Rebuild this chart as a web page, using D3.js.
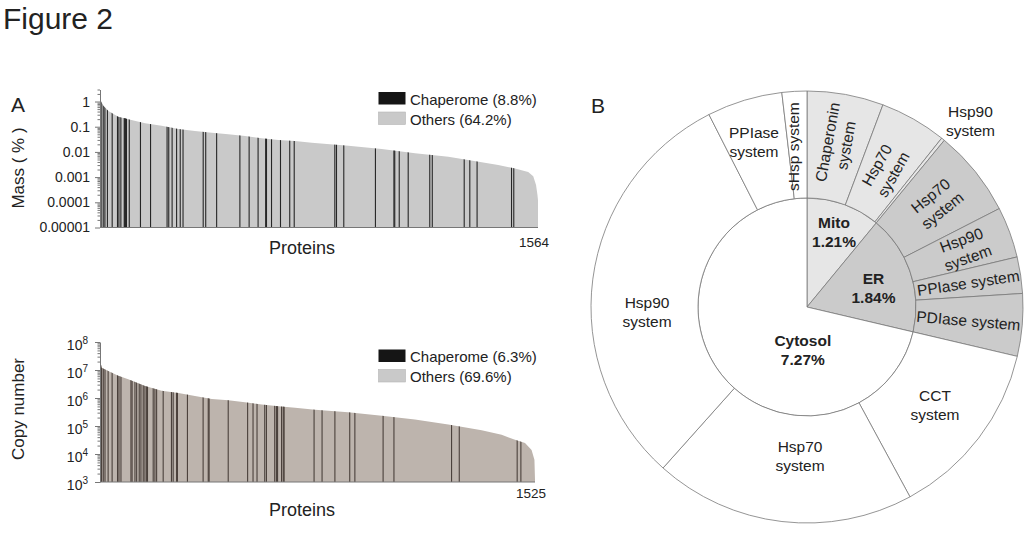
<!DOCTYPE html>
<html>
<head>
<meta charset="utf-8">
<script src="https://cdn.jsdelivr.net/npm/d3@7"></script>
<style>
  body { margin: 0; background: #fff; }
  svg { display: block; font-family: "Liberation Sans", Arial, sans-serif; }
</style>
</head>
<body>
<svg id="fig" width="1024" height="545"></svg>
<script>
// ---- dati ----

// pannello A, massa: inviluppo delle barre [rango, massa %]
var massEnvelope = [[0, 1.08], [4, 1.0], [12, 0.68], [30, 0.42], [65, 0.25], [101, 0.196], [161, 0.137],
  [220, 0.11], [280, 0.081], [339, 0.067], [399, 0.058], [458, 0.05], [518, 0.043], [577, 0.035],
  [637, 0.030], [696, 0.027], [756, 0.023], [887, 0.0177], [1006, 0.0131], [1125, 0.0088],
  [1244, 0.0065], [1363, 0.0039], [1422, 0.003], [1482, 0.0022], [1529, 0.0016], [1547, 0.00107],
  [1557, 0.00049], [1562, 0.0002], [1564, 0.00012]];
// ranghi delle proteine chaperone (linee nere)
var massChaperones = [1, 2, 3, 4, 12, 18, 27, 44, 63, 68, 75, 87, 89, 91, 93, 95, 105, 145, 181, 240, 246,
  258, 274, 287, 297, 369, 378, 417, 500, 533, 565, 592, 595, 613, 645, 678, 694, 839, 845, 871, 984,
  1050, 1053, 1069, 1101, 1178, 1187, 1301, 1321, 1347, 1470, 1478];
var massTicks = [0.00001, 0.0001, 0.001, 0.01, 0.1, 1];
var massTickLabels = ["0.00001", "0.0001", "0.001", "0.01", "0.1", "1"];
var massTotal = 1564;
var massLegend = ["Chaperome (8.8%)", "Others (64.2%)"];

// pannello A, numero di copie
var copyEnvelope = [[0, 2.1e7], [1, 2.1e7], [6, 1.2e7], [29, 9.3e6], [64, 6.2e6], [99, 4.7e6], [158, 2.7e6],
  [216, 1.8e6], [275, 1.5e6], [333, 1.17e6], [392, 9.3e5], [450, 8.3e5], [508, 7.1e5], [567, 5.9e5],
  [625, 5.1e5], [684, 4.5e5], [754, 3.8e5], [870, 3.1e5], [988, 2.3e5], [1104, 1.7e5], [1221, 1.12e5],
  [1338, 7.1e4], [1408, 4.9e4], [1455, 3.2e4], [1490, 2.45e4], [1513, 1.4e4], [1523, 6.2e3], [1525, 1.2e3]];
var copyChaperones = [1, 6, 12, 18, 29, 43, 62, 67, 74, 109, 113, 123, 129, 138, 144, 152, 158, 164, 167,
  187, 193, 199, 222, 251, 257, 269, 272, 307, 362, 380, 383, 450, 518, 537, 551, 578, 584, 613, 619,
  623, 637, 643, 646, 751, 779, 824, 876, 894, 993, 1031, 1233, 1260, 1463, 1476];
var copyTicks = [1e3, 1e4, 1e5, 1e6, 1e7, 1e8];
var copyTickExp = ["3", "4", "5", "6", "7", "8"];
var copyTotal = 1525;
var copyLegend = ["Chaperome (6.3%)", "Others (69.6%)"];

// pannello B: compartimenti e sistemi (% della massa del proteoma)
var compartments = ["Mito", "ER", "Cytosol"];
var compartmentPct = ["1.21%", "1.84%", "7.27%"];
var mitoSystems = ["Chaperonin system", "Hsp70 system", "Hsp90 system"];
var mitoValues = [0.59, 0.516, 0.026];
var erSystems = ["Hsp70 system", "Hsp90 system", "PPIase system", "PDIase system"];
var erValues = [0.671, 0.393, 0.281, 0.482];
var cytoSystems = ["CCT system", "Hsp70 system", "Hsp90 system", "PPIase system", "sHsp system"];
var cytoValues = [1.385, 2.015, 3.188, 0.582, 0.192];

// ---- disegno ----
var svg = d3.select("#fig");
var FONT_INK = "#222";

svg.append("text").attr("x", 3).attr("y", 29).style("font-size", "30px").attr("fill", FONT_INK).text("Figure 2");
svg.append("text").attr("x", 11).attr("y", 112).style("font-size", "21px").attr("fill", FONT_INK).text("A");
svg.append("text").attr("x", 591).attr("y", 113).style("font-size", "21px").attr("fill", FONT_INK).text("B");

function isPow10(v){ var l = Math.log10(v); return Math.abs(l - Math.round(l)) < 1e-9; }

//funzione che disegna un grafico a barre ordinato con le chaperone sopra
function rankPlot(cfg){
  var x = d3.scaleLinear().domain([0, cfg.total]).range([cfg.x0, cfg.x1]);
  var y = d3.scaleLog().domain(cfg.domain).range([cfg.yBottom, cfg.yTop]);
  var g = svg.append("g");

  var area = d3.area()
    .x(function(d){ return x(d[0]); })
    .y0(cfg.yBottom)
    .y1(function(d){ return y(d[1]); });

  g.append("clipPath").attr("id", cfg.id + "-clip")
    .append("path").attr("d", area(cfg.envelope));

  g.append("path").attr("d", area(cfg.envelope)).attr("fill", cfg.fill);

  g.append("g").attr("clip-path", "url(#" + cfg.id + "-clip)")
    .selectAll("line").data(cfg.chaperones).enter().append("line")
    .attr("x1", function(d){ return x(d - 0.5); })
    .attr("x2", function(d){ return x(d - 0.5); })
    .attr("y1", cfg.yBottom).attr("y2", cfg.yTop)
    .style("stroke", cfg.lineColor).style("stroke-width", "1.1px");

  // tacche minori
  var minor = y.ticks().filter(function(v){ return !isPow10(v); });
  var minorAx = g.append("g").attr("transform", "translate(" + cfg.x0 + ",0)")
    .call(d3.axisLeft(y).tickValues(minor).tickSize(2.5).tickSizeOuter(0).tickFormat(""));
  minorAx.select(".domain").remove();
  minorAx.selectAll("line").attr("stroke", "#777");

  // tacche maggiori
  var majorAx = g.append("g").attr("transform", "translate(" + cfg.x0 + ",0)")
    .call(d3.axisLeft(y).tickValues(cfg.ticks).tickSize(5).tickSizeOuter(0).tickPadding(cfg.pad).tickFormat(""));
  majorAx.select(".domain").attr("stroke", "#777");
  majorAx.selectAll("line").attr("stroke", "#777");
  majorAx.selectAll(".tick text").each(function(d, i){
    var t = d3.select(this).attr("fill", FONT_INK).style("font-size", "14px").style("font-family", "inherit");
    if (cfg.tickExp) {
      t.text(null);
      t.append("tspan").text("10");
      t.append("tspan").attr("dy", "-6").style("font-size", "10px").text(cfg.tickExp[i]);
      t.attr("dy", "0.55em");
    } else {
      t.text(cfg.tickLabels[i]);
    }
  });

  // asse x
  g.append("line").attr("x1", cfg.x0).attr("x2", cfg.x1).attr("y1", cfg.yBottom).attr("y2", cfg.yBottom)
    .style("stroke", "#777").style("stroke-width", "1px");
  g.append("text").attr("x", x(cfg.total) - 4).attr("y", cfg.yBottom + cfg.nOff).attr("text-anchor", "middle")
    .style("font-size", "13.5px").attr("fill", FONT_INK).text(cfg.total);
  g.append("text").attr("x", 302).attr("y", cfg.yBottom + cfg.protOff).attr("text-anchor", "middle")
    .style("font-size", "18px").attr("fill", FONT_INK).text("Proteins");
  g.append("text").attr("transform", "translate(24," + cfg.labelY + ") rotate(-90)").attr("text-anchor", "middle")
    .style("font-size", "17px").attr("fill", FONT_INK).text(cfg.yLabel);

  // legenda
  var cols = ["#151515", "#c9c9c9"];
  cfg.legend.forEach(function(s, i){
    g.append("rect").attr("x", 378.5).attr("y", cfg.legendY + i * 20).attr("width", 27).attr("height", 12.5)
      .attr("fill", cols[i]).attr("stroke", i ? "#b5b5b5" : "none").attr("stroke-width", 0.6);
    g.append("text").attr("x", 410).attr("y", cfg.legendY + i * 20 + 12.5)
      .style("font-size", "15px").attr("fill", FONT_INK).text(s);
  });
}

rankPlot({ id: "mass", total: massTotal, x0: 100, x1: 538, domain: [1e-5, 3], yBottom: 227.5, yTop: 89.5,
  envelope: massEnvelope, chaperones: massChaperones, fill: "#c9c9c9", lineColor: "#262626",
  ticks: massTicks, tickLabels: massTickLabels, pad: 5, nOff: 19, protOff: 26,
  yLabel: "Mass ( % )", labelY: 168, legend: massLegend, legendY: 92 });

rankPlot({ id: "copy", total: copyTotal, x0: 100, x1: 535, domain: [1e3, 1e8], yBottom: 482, yTop: 342,
  envelope: copyEnvelope, chaperones: copyChaperones, fill: "#bdb4ad", lineColor: "#4a403b",
  ticks: copyTicks, tickExp: copyTickExp, pad: 7, nOff: 16, protOff: 34,
  yLabel: "Copy number", labelY: 409, legend: copyLegend, legendY: 349.5 });

// ---- pannello B: sunburst ----
var cx = 807, cy = 307, rIn = 109, rOut = 216;
var groups = [mitoSystems, erSystems, cytoSystems];
var groupVals = [mitoValues, erValues, cytoValues];
var rootData = { name: "chaperome", children: compartments.map(function(c, i){
  return { name: c, pct: compartmentPct[i], children: groups[i].map(function(s, j){
    return { name: s, value: groupVals[i][j] }; }) };
}) };
var root = d3.hierarchy(rootData).sum(function(d){ return d.value || 0; });
d3.partition().size([2 * Math.PI, 2])(root);

var fills = { "Mito": "#e6e6e6", "ER": "#cbcbcb", "Cytosol": "#ffffff" };
var arc = d3.arc()
  .startAngle(function(d){ return d.x0; })
  .endAngle(function(d){ return d.x1; })
  .innerRadius(function(d){ return d.depth === 1 ? 0 : rIn; })
  .outerRadius(function(d){ return d.depth === 1 ? rIn : rOut; });

var pie = svg.append("g").attr("transform", "translate(" + cx + "," + cy + ")");
pie.selectAll("path").data(root.descendants().filter(function(d){ return d.depth > 0; }))
  .enter().append("path")
  .attr("d", arc)
  .attr("fill", function(d){ return fills[d.depth === 1 ? d.data.name : d.parent.data.name]; })
  .attr("stroke", "#7a7a7a").attr("stroke-width", 0.8);

function polar(r, a){ return [r * Math.sin(a), -r * Math.cos(a)]; }

function block(lines, p, rot, size, bold){
  var t = pie.append("text")
    .attr("transform", "translate(" + p[0] + "," + p[1] + ") rotate(" + rot + ")")
    .attr("text-anchor", "middle").style("font-size", size + "px")
    .style("font-weight", bold ? "bold" : "normal").attr("fill", FONT_INK);
  var lh = 19, off = -(lines.length - 1) * lh / 2;
  lines.forEach(function(s, i){
    t.append("tspan").attr("x", 0).attr("y", off + i * lh).attr("dy", "0.36em").text(s);
  });
}

// posizioni delle etichette
var innerLayout = [{ r: 80, da: 0 }, { r: 69, da: 3 }, { r: 43, da: -46 }];
var leafLayout = [
  { mode: "radial", r: 166, split: true }, { mode: "radial", r: 158, split: true },
  { mode: "flat", r: 248, da: 2.2, split: true },
  { mode: "radial", r: 166, split: true }, { mode: "radial", r: 168, split: true },
  { mode: "radial", r: 163, split: false }, { mode: "radial", r: 162, split: false },
  { mode: "flat", r: 161, da: 0, split: true }, { mode: "flat", r: 149, da: -4, split: true },
  { mode: "flat", r: 160, da: -9, split: true }, { mode: "flat", r: 173, da: -1, split: true },
  { mode: "up", r: 161, da: -1.5, split: false }
];

root.children.forEach(function(c, i){
  var L = innerLayout[i];
  var a = (c.x0 + c.x1) / 2 + L.da * Math.PI / 180;
  block([c.data.name, c.data.pct], polar(L.r, a), 0, 15.5, true);
});

root.leaves().forEach(function(d, i){
  var L = leafLayout[i];
  var a = (d.x0 + d.x1) / 2 + (L.da || 0) * Math.PI / 180;
  var deg = a * 180 / Math.PI;
  var words = d.data.name.split(" ");
  var lines = L.split ? [words[0], words.slice(1).join(" ")] : [d.data.name];
  var rot = L.mode === "radial" ? deg - 90 : (L.mode === "up" ? -90 : 0);
  block(lines, polar(L.r, a), rot, 15.5, false);
});
</script>
</body>
</html>
